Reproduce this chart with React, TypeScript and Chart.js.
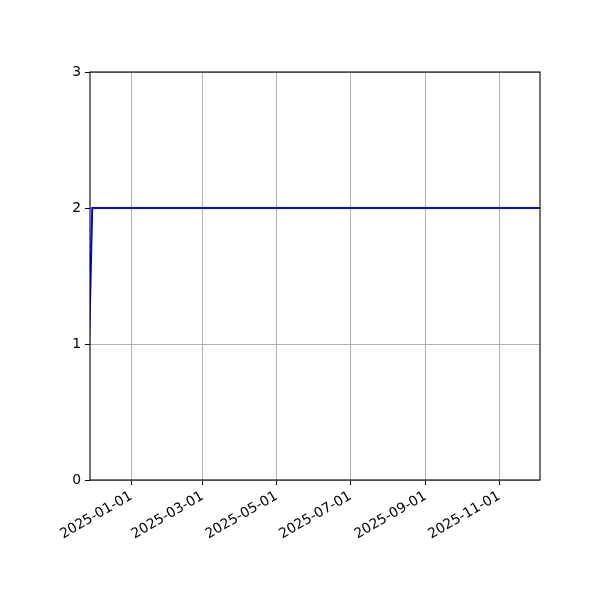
import React, { useEffect, useRef } from "react";
import { Chart, registerables } from "chart.js";

Chart.register(...registerables);

// Series (dates as ISO strings, values on the y axis)
const lineDates = ["2024-11-24T12:00:00Z", "2024-11-29T18:00:00Z", "2025-12-31"];
const lineValues = [0, 2, 2];

// Axis settings
const xTickDates = ["2025-01-01", "2025-03-01", "2025-05-01", "2025-07-01", "2025-09-01", "2025-11-01"];
const xMinDate = "2024-11-27T22:00:00Z";
const xMaxDate = "2025-12-04T14:00:00Z";
const yTicks = [0, 1, 2, 3];

const toMs = (d: string) => Date.parse(d.length === 10 ? d + "T00:00:00Z" : d);
const fmt = (ms: number) => new Date(ms).toISOString().slice(0, 10);

const FONT = { family: "'DejaVu Sans', sans-serif", size: 13.9 };

const framePlugin = {
  id: "frame",
  afterDraw(chart: any) {
    const { ctx, chartArea: a } = chart;
    ctx.save();
    ctx.strokeStyle = "#000";
    ctx.lineWidth = 1.1;
    ctx.strokeRect(a.left, a.top, a.right - a.left, a.bottom - a.top);
    ctx.restore();
  },
};

export default function App() {
  const ref = useRef<HTMLCanvasElement | null>(null);

  useEffect(() => {
    if (!ref.current) return;
    const data = lineDates.map((d, i) => ({ x: toMs(d), y: lineValues[i] }));
    const chart = new Chart(ref.current, {
      type: "line",
      data: {
        datasets: [
          {
            data,
            borderColor: "#0000ff",
            borderWidth: 2,
            pointRadius: 0,
            fill: false,
            tension: 0,
            clip: 0,
          } as any,
        ],
      },
      options: {
        animation: false,
        responsive: false,
        devicePixelRatio: 1,
        layout: { padding: { top: 72, right: 60, left: 0, bottom: 0 } },
        plugins: { legend: { display: false }, tooltip: { enabled: false } },
        scales: {
          x: {
            type: "linear",
            min: toMs(xMinDate),
            max: toMs(xMaxDate),
            afterBuildTicks: (scale: any) => {
              scale.ticks = xTickDates.map((d) => ({ value: toMs(d) }));
            },
            afterFit: (scale: any) => {
              scale.height = 120;
            },
            ticks: {
              autoSkip: false,
              maxRotation: 30,
              minRotation: 30,
              padding: 3,
              color: "#000",
              font: FONT,
              callback: (v: any) => fmt(Number(v)),
            },
            grid: {
              color: "#b0b0b0",
              lineWidth: 1,
              tickColor: "#000",
              tickLength: 5,
              drawTicks: true,
            },
            border: { display: false },
          },
          y: {
            type: "linear",
            min: yTicks[0],
            max: yTicks[yTicks.length - 1],
            afterBuildTicks: (scale: any) => {
              scale.ticks = yTicks.map((v) => ({ value: v }));
            },
            afterFit: (scale: any) => {
              scale.width = 90;
            },
            ticks: {
              padding: 4,
              color: "#000",
              font: FONT,
              callback: (v: any) => String(v),
            },
            grid: {
              color: "#b0b0b0",
              lineWidth: 1,
              tickColor: "#000",
              tickLength: 5,
              drawTicks: true,
            },
            border: { display: false },
          },
        },
      },
      plugins: [framePlugin],
    });
    return () => chart.destroy();
  }, []);

  return (
    <div style={{ position: "absolute", left: 0, top: 0, width: 600, height: 600, background: "#fff" }}>
      <canvas ref={ref} width={600} height={600} style={{ width: 600, height: 600 }} />
    </div>
  );
}
